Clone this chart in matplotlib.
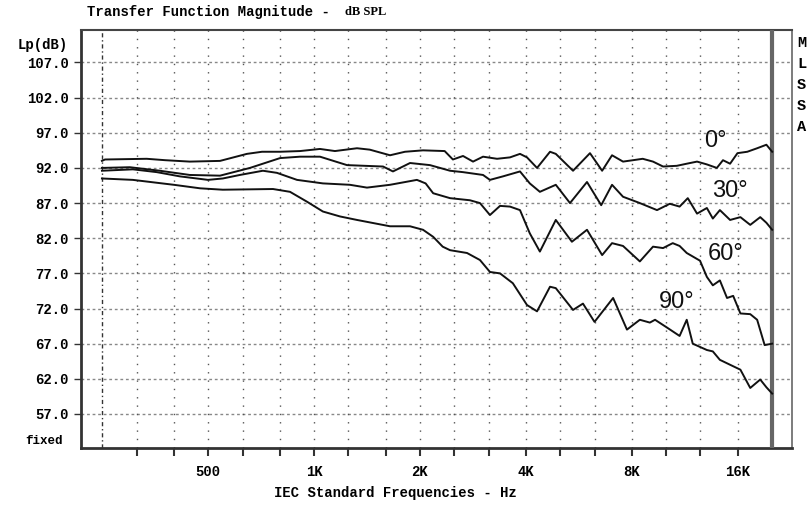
import matplotlib
matplotlib.use("Agg")
import matplotlib.pyplot as plt

# frequency response of the speaker at 4 off-axis angles (Hz, dB SPL)
f_0 = [250, 255, 335, 378, 444, 541, 645, 712, 801, 913, 1040, 1147, 1325, 1440,
       1644, 1813, 2040, 2350, 2480, 2650, 2829, 3020, 3310, 3602, 3846, 4026, 4299,
       4680, 4860, 5440, 6077, 6580, 7020, 7543, 8054, 8580, 9177, 9800, 10720,
       11440, 12238, 13050, 13930, 14500, 15190, 15940, 17000, 18130, 19260, 20000]
db_0 = [93.0, 93.2, 93.3, 93.1, 92.9, 93.0, 94.0, 94.3, 94.3, 94.4, 94.7, 94.4, 94.8, 94.6,
        93.8, 94.3, 94.5, 94.4, 93.2, 93.7, 92.9, 93.6, 93.3, 93.5, 94.0, 93.5, 92.0,
        94.3, 94.0, 91.6, 94.1, 91.6, 93.8, 92.9, 93.1, 93.3, 92.9, 92.2, 92.3,
        92.6, 92.9, 92.5, 92.0, 93.1, 92.6, 94.1, 94.3, 94.8, 95.3, 94.3]

f_30 = [250, 300, 365, 444, 541, 658, 801, 913, 1040, 1241, 1571, 1676, 1874, 2135,
        2434, 2650, 3020, 3160, 3441, 3846, 4100, 4380, 4860, 5333, 5960, 6540, 7020,
        7543, 8420, 9420, 10240, 10920, 11520, 12238, 13050, 13570, 14210, 15190,
        16250, 17330, 18500, 19260, 20000]
db_30 = [92.0, 92.1, 91.6, 91.0, 90.9, 92.0, 93.4, 93.6, 93.6, 92.4, 92.2, 91.5, 92.7, 92.4,
         91.6, 91.4, 91.0, 90.3, 90.8, 91.5, 89.8, 88.6, 89.6, 87.0, 90.0, 86.7, 89.6,
         87.9, 87.0, 86.0, 86.9, 86.5, 87.7, 85.5, 86.3, 84.8, 86.0, 84.6,
         85.0, 83.9, 85.0, 84.2, 83.2]

f_60 = [250, 306, 358, 416, 500, 551, 616, 716, 785, 895, 1060, 1265, 1414, 1644,
        1960, 2075, 2180, 2434, 2773, 2960, 3160, 3375, 3602, 3846, 4100, 4380, 4860,
        5400, 5960, 6580, 7020, 7543, 8420, 9177, 9800, 10440, 10920, 11440, 12480,
        13050, 13570, 14210, 14890, 15500, 16250, 17330, 18130, 19040, 20000]
db_60 = [91.6, 91.8, 91.4, 90.8, 90.3, 90.5, 91.0, 91.6, 91.3, 90.3, 89.8, 89.6, 89.2, 89.6,
         90.3, 89.8, 88.4, 87.7, 87.4, 87.0, 85.3, 86.6, 86.5, 86.0, 82.7, 80.1, 84.6,
         81.5, 83.2, 79.6, 81.3, 80.9, 78.7, 80.8, 80.6, 81.3, 80.9, 79.9, 78.8,
         76.5, 75.3, 76.0, 73.5, 73.8, 71.3, 71.2, 70.4, 66.8, 67.0]

f_90 = [250, 306, 400, 475, 551, 765, 855, 955, 1060, 1185, 1325, 1644, 1874, 2040,
        2180, 2320, 2434, 2720, 2960, 3160, 3375, 3670, 4026, 4299, 4680, 4860, 5440,
        5805, 6260, 7070, 7740, 8420, 8990, 9300, 10050, 10920, 11440, 11900, 13050,
        13570, 14210, 15190, 16250, 17330, 18500, 19260, 20000]
db_90 = [90.5, 90.3, 89.6, 89.1, 88.9, 89.0, 88.6, 87.2, 85.8, 85.1, 84.6, 83.7, 83.7, 83.2,
         82.2, 80.8, 80.3, 79.9, 78.9, 77.2, 77.0, 75.6, 72.5, 71.6, 75.1, 74.9, 71.8,
         72.7, 70.1, 73.5, 69.0, 70.4, 70.0, 70.4, 69.3, 68.1, 70.4, 67.0, 66.1,
         65.9, 64.7, 64.0, 63.3, 60.7, 61.9, 60.8, 59.9]

angle_labels = ["0°", "30°", "60°", "90°"]
label_pos = [(13765, 95.8), (15190, 88.7), (14790, 79.8), (10720, 72.9)]

third_oct = [315, 400, 500, 630, 800, 1000, 1250, 1600, 2000, 2500, 3150, 4000,
             5000, 6300, 8000, 10000, 12500, 16000]
x_names = {500: "500", 1000: "1K", 2000: "2K", 4000: "4K", 8000: "8K", 16000: "16K"}
y_ticks = [107, 102, 97, 92, 87, 82, 77, 72, 67, 62, 57]

mono = "Liberation Mono"

fig = plt.figure(figsize=(8.08, 5.08), dpi=100)
ax = fig.add_axes([81 / 808, 60 / 508, 711 / 808, 418 / 508])
ax.set_xscale("log")
ax.set_xlim(218, 22770)
ax.set_ylim(52.16, 111.62)

# grid
for y in y_ticks:
    ax.axhline(y, color="#888888", lw=1, ls=(0, (2, 2)), zorder=1)
for f in third_oct:
    ax.axvline(f, color="#555555", lw=1, ls=(0, (1, 5)), zorder=1)
ax.axvline(250, color="#333333", lw=1, ls=(0, (3, 2, 1, 2)), zorder=1)
ax.axvline(20000, color="#666666", lw=3, zorder=3)

for f, d in [(f_0, db_0), (f_30, db_30), (f_60, db_60), (f_90, db_90)]:
    ax.plot(f, d, color="#111111", lw=1.4, zorder=4)

for txt, (fx, fy) in zip(angle_labels, label_pos):
    ax.text(fx, fy, txt, fontsize=17, family="Liberation Sans", ha="center", va="center",
            color="#111111", zorder=5)

ax.minorticks_off()
ax.set_xticks(third_oct)
ax.set_xticklabels([x_names.get(f, "") for f in third_oct], family=mono,
                   fontweight="bold", fontsize=10)
ax.set_yticks(y_ticks)
ax.set_yticklabels(["%.1f" % y for y in y_ticks], family=mono, fontweight="bold", fontsize=10)
ax.tick_params(axis="x", direction="out", length=6, width=1.5, color="#333333", pad=6)
ax.tick_params(axis="y", direction="out", length=5, width=1, color="#333333", pad=4)

for side in ["left", "bottom"]:
    ax.spines[side].set_linewidth(2)
    ax.spines[side].set_color("#333333")
ax.spines["top"].set_linewidth(1.5)
ax.spines["top"].set_color("#444444")
ax.spines["top"].set_linestyle((0, (3, 1)))
ax.spines["right"].set_linewidth(1.2)
ax.spines["right"].set_color("#666666")

fig.text(87 / 808, 1 - 12 / 508, "Transfer Function Magnitude - ", family=mono,
         fontweight="bold", fontsize=10, va="center")
fig.text(345 / 808, 1 - 12 / 508, "dB SPL", family="Liberation Serif",
         fontweight="bold", fontsize=9, va="center")
fig.text(68 / 808, 1 - 45 / 508, "Lp(dB)", family=mono, fontweight="bold",
         fontsize=10, ha="right", va="center")
fig.text(63 / 808, 1 - 441 / 508, "fixed", family=mono, fontweight="bold",
         fontsize=9, ha="right", va="center")
fig.text(395 / 808, 1 - 493 / 508, "IEC Standard Frequencies - Hz", family=mono,
         fontweight="bold", fontsize=10, ha="center", va="center")

for i, ch in enumerate("MLSSA"):
    fig.text(797 / 808, 1 - (43 + 21 * i) / 508, ch, family=mono, fontweight="bold",
             fontsize=11, va="center")

fig.savefig("out.png", dpi=100)
